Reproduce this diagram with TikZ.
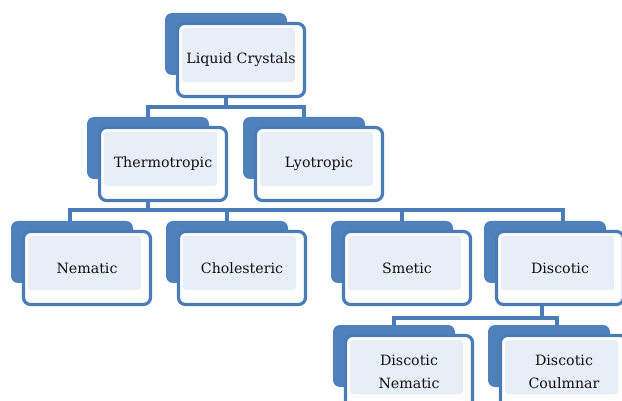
\documentclass[tikz,border=0pt]{standalone}
\usepackage{fontspec}
\setmainfont{DejaVu Serif}
\definecolor{lcblue}{HTML}{4F81BD}
\definecolor{lcedge}{HTML}{4A7CB8}
\definecolor{lcinner}{HTML}{E8EEF7}
\definecolor{lctext}{HTML}{101010}
\tikzset{
  backbox/.style={fill=lcblue, rounded corners=7pt, minimum width=122pt, minimum height=62pt, inner sep=0pt},
  frontbox/.style={draw=lcedge, line width=3.2pt, fill=white, rounded corners=7pt, minimum width=127pt, minimum height=73pt, inner sep=0pt},
  innerbox/.style={fill=lcinner, rounded corners=3pt, minimum width=113pt, minimum height=54pt, inner sep=0pt},
  itemtext/.style={inner sep=0pt, align=center, text=lctext, font=\fontsize{14.2}{23}\selectfont},
  conn/.style={draw=lcedge, line width=3.4pt}
}
% #1 name, #2 x, #3 y (centre of the front box), #4 text
\newcommand\lcitem[4]{%
  \node[backbox] (#1-b) at (#2-15,#3-16) {};
  \node[frontbox] (#1) at (#2,#3) {};
  \node[innerbox] (#1-i) at (#2-2.5,#3-5) {};
  \node[itemtext] (#1-t) at (#2,#3) {#4};
}
\begin{document}
\begin{tikzpicture}[x=1pt,y=-1pt]
\useasboundingbox (0,0) rectangle (622,401);
\clip (0,0) rectangle (622,401);
\fill[white] (0,0) rectangle (622,401);
\lcitem{lc}{241}{60}{Liquid Crystals}
\lcitem{th}{163}{164}{Thermotropic}
\lcitem{ly}{319}{164}{Lyotropic}
\lcitem{ne}{87}{268}{Nematic}
\lcitem{ch}{242}{268}{Cholesteric}
\lcitem{sm}{407}{268}{Smetic}
\lcitem{di}{560}{268}{Discotic}
\lcitem{dn}{409}{372}{Discotic\\Nematic}
\lcitem{dc}{564}{372}{Discotic\\Coulmnar}
% connectors
\coordinate (bar1) at (0,107);
\coordinate (bar2) at (0,210);
\coordinate (bar3) at (0,318);
\draw[conn] (lc-b.center |- lc.south) -- (lc-b.center |- bar1);
\draw[conn] (th-b.north) -- (th-b.north |- bar1) -- (ly-b.north |- bar1) -- (ly-b.north);
\draw[conn] (th-b.center |- th.south) -- (th-b.center |- bar2);
\draw[conn] ([xshift=-2pt]ne-b.north) -- ([xshift=-2pt]ne-b.north |- bar2) -- ([xshift=18pt]di-b.north |- bar2) -- ([xshift=18pt]di-b.north);
\draw[conn] (ch-b.north) -- (ch-b.north |- bar2);
\draw[conn] ([xshift=10pt]sm-b.north) -- ([xshift=10pt]sm-b.north |- bar2);
\draw[conn] ([xshift=-3pt]di-b.center |- di.south) -- ([xshift=-3pt]di-b.center |- bar3);
\draw[conn] (dn-b.north) -- (dn-b.north |- bar3) -- ([xshift=8pt]dc-b.north |- bar3) -- ([xshift=8pt]dc-b.north);
\end{tikzpicture}
\end{document}
